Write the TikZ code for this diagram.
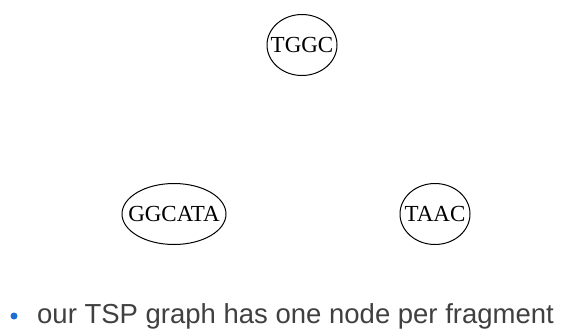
\documentclass[tikz,border=0pt]{standalone}
\usepackage{fontspec}
\setmainfont{Liberation Serif}
\setsansfont{Liberation Sans}
\usetikzlibrary{shapes,positioning}
\definecolor{bulletblue}{RGB}{31,111,208}
\definecolor{textgrey}{RGB}{64,64,64}
\newcommand{\seq}[1]{\makebox[0pt]{#1}}
\tikzset{
    %Define fragment node style
    fragnode/.style={
      ellipse,
      draw=black, line width=1pt,
      inner sep=0pt,
      minimum height=61pt,
      font=\fontsize{23}{23}\selectfont,
      text centered},
    dot/.style={
      circle,
      fill=bulletblue,
      inner sep=0pt,
      minimum size=7pt},
    bullettext/.style={
      font=\sffamily\fontsize{27.5}{30}\selectfont,
      text=textgrey,
      anchor=base west,
      inner sep=0pt}
}

\begin{document}
\begin{tikzpicture}[x=1pt,y=-1pt]
\useasboundingbox (0,0) rectangle (578,333);
\node [fragnode, minimum width=70pt] (tggc) at (302,45) {\seq{TGGC}};
\node [fragnode, minimum width=104pt] (ggcata) at (174,214) {\seq{GGCATA}};
\node [fragnode, minimum width=70pt] (taac) at (435,214) {\seq{TAAC}};
\node [dot] (bullet) at (14,316) {};
\node [bullettext] (caption) at (37,323) {our TSP graph has one node per fragment};
\end{tikzpicture}
\end{document}
